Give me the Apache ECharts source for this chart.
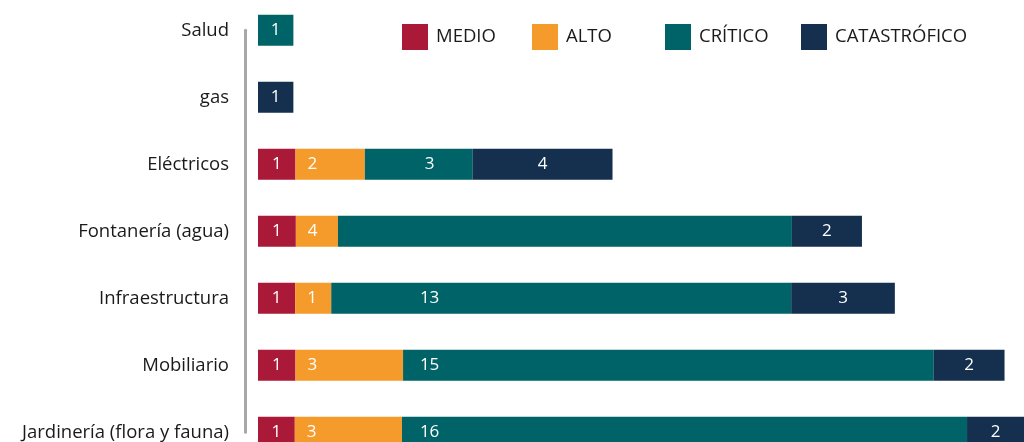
<!DOCTYPE html>
<html>
<head>
<meta charset="utf-8">
<title>Riesgos por categoría</title>
<script src="https://cdn.jsdelivr.net/npm/echarts@6.0.0/dist/echarts.min.js"></script>
<style>
  html, body { margin: 0; padding: 0; background: #fff; }
  #main { width: 1024px; height: 442px; }
</style>
</head>
<body>
<div id="main"></div>
<script>
// categorías (de arriba a abajo)
var categories = ['Salud', 'gas', 'Eléctricos', 'Fontanería (agua)', 'Infraestructura', 'Mobiliario', 'Jardinería (flora y fauna)'];

// anchos de cada tramo
var medio        = [null, null, 1.06, 1.07, 1.05, 1.06, 1.04];
var alto         = [null, null, 1.96, 1.19, 1.02, 3.04, 3.03];
var critico      = [1,    null, 3.05, 12.83, 13,  15,   15.97];
var catastrofico = [null, 1,    3.95, 1.98, 2.93, 2.0,  2.0];

// textos que aparecen dentro de las barras
var medioLabels        = ['', '', '1', '1', '1', '1', '1'];
var altoLabels         = ['', '', '2', '4', '1', '3', '3'];
var criticoLabels      = ['1', '', '3', '', '13', '15', '16'];
var catastroficoLabels = ['', '1', '4', '2', '3', '2', '2'];

var names  = ['MEDIO', 'ALTO', 'CRÍTICO', 'CATASTRÓFICO'];
var colors = ['#ab1939', '#f49b2b', '#006367', '#14304e'];

var FONT = '"Open Sans", "Noto Sans", sans-serif';
var X_MAX = 21.65;              // el gráfico original queda cortado a la derecha
var GRID_LEFT = 258;
var UNIT = (1024 - GRID_LEFT) / X_MAX;   // px por unidad
var CRIT_LABEL_AT = 4.85;       // las etiquetas de CRÍTICO van alineadas en esta posición

var myChart = echarts.init(document.getElementById('main'), null, { renderer: 'canvas' });

/**
 * arma los datos de una serie con su etiqueta
 */
function buildData(values, labels, kind) {
    var out = [];
    for (var i = 0, j = values.length; i < j; i++) {
        var v = values[i];
        if (v == null) { out.push('-'); continue; }
        var item = { value: v, label: { formatter: labels[i] || '' } };
        if (kind === 'critico') {
            var start = (medio[i] || 0) + (alto[i] || 0);
            if (CRIT_LABEL_AT > start && CRIT_LABEL_AT < start + v && labels[i]) {
                item.label.position = [(CRIT_LABEL_AT - start) * UNIT, '50%'];
                item.label.align = 'center';
                item.label.verticalAlign = 'middle';
            }
        }
        out.push(item);
    }
    return out;
}

function makeSeries(idx, values, labels, kind) {
    return {
        name: names[idx],
        type: 'bar',
        stack: 'total',
        barWidth: 31,
        itemStyle: { color: colors[idx] },
        label: {
            show: true,
            position: kind === 'alto' ? 'insideLeft' : 'inside',
            distance: 12,
            color: '#fff',
            fontFamily: FONT,
            fontSize: 17
        },
        emphasis: { disabled: true },
        data: buildData(values, labels, kind)
    };
}

// leyenda: cada elemento en su sitio
var legendLeft = [397, 527, 660, 796];
var legends = [];
for (var k = 0; k < names.length; k++) {
    legends.push({
        data: [names[k]],
        left: legendLeft[k],
        top: 19,
        icon: 'rect',
        itemWidth: 26,
        itemHeight: 26,
        selectedMode: false,
        textStyle: { fontFamily: FONT, fontSize: 18.5, color: '#1a1a1a', padding: [0, 0, 0, 3] }
    });
}

var option = {
    backgroundColor: '#fff',
    animation: false,
    legend: legends,
    grid: {
        left: GRID_LEFT,
        right: 0,
        top: 30.3,
        bottom: 9.7,
        containLabel: false
    },
    xAxis: {
        type: 'value',
        min: 0,
        max: X_MAX,
        show: false
    },
    yAxis: {
        type: 'category',
        data: categories,
        inverse: true,
        boundaryGap: false,
        offset: 13,
        axisLine: { show: true, onZero: false, lineStyle: { color: '#a8a8a8', width: 3 } },
        axisTick: { show: false },
        axisLabel: {
            margin: 16,
            color: '#1a1a1a',
            fontFamily: FONT,
            fontSize: 18.5
        }
    },
    series: [
        makeSeries(0, medio, medioLabels, 'medio'),
        makeSeries(1, alto, altoLabels, 'alto'),
        makeSeries(2, critico, criticoLabels, 'critico'),
        makeSeries(3, catastrofico, catastroficoLabels, 'catastrofico')
    ]
};

myChart.setOption(option);
</script>
</body>
</html>
